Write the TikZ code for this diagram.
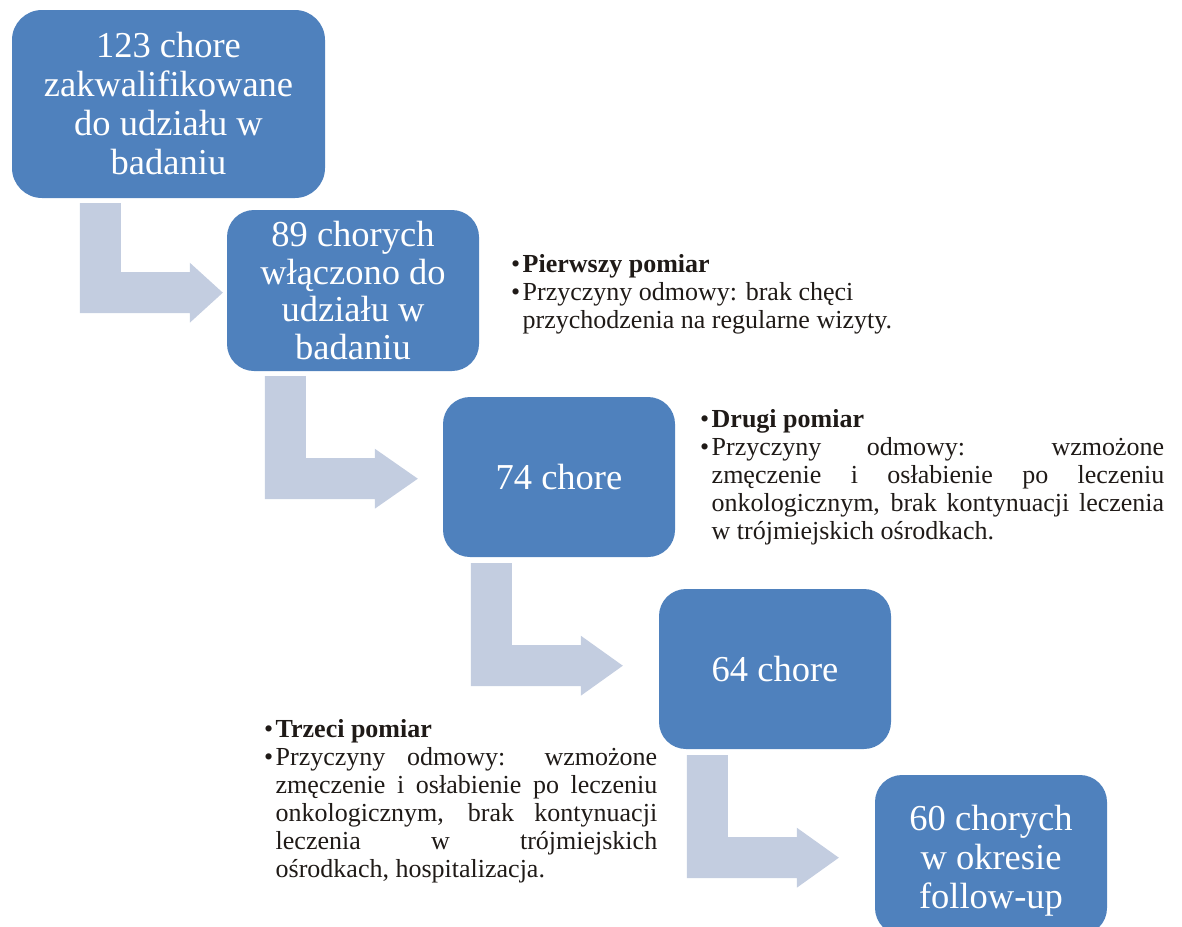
\documentclass[tikz,border=0pt]{standalone}
\usepackage{fontspec}
\setmainfont{Liberation Serif}
\usetikzlibrary{calc}
\definecolor{boxblue}{HTML}{4F81BD}
\definecolor{arrowgray}{RGB}{195,205,224}
\definecolor{notetext}{HTML}{1F1A17}
\newcommand\notebullet{\hspace*{-11.5pt}\makebox[11.5pt][l]{•}}
\newcommand\bentarrow[3]{%
  \fill[arrowgray] #1 -- ++(41,0) -- ++(0,#2-41) -- ++(69,0) -- ++(0,-9.5)
    -- ++(#3,30) -- ++(-#3,30) -- ++(0,-9.5) -- ++(-110,0) -- cycle;}
\begin{document}
\begin{tikzpicture}[x=1pt,y=-1pt,
  stage/.style={rounded corners=#1, fill=boxblue, text=white, align=center,
    inner sep=0pt, font=\fontsize{36.5}{39}\selectfont},
  stage/.default=27pt,
  note/.style={anchor=north west, inner sep=0pt, align=justify, text=notetext,
    font=\fontsize{26}{28}\selectfont}]
\useasboundingbox (0,0) rectangle (1182,926);
\clip (0,0) rectangle (1182,926);
% stages
\node[stage=30pt, minimum width=313pt, minimum height=188pt] (b1) at (168.5,104)
  {123 chore\\zakwalifikowane\\do udziału w\\badaniu};
\node[stage, minimum width=252pt, minimum height=161pt,
  font=\fontsize{36.5}{37.5}\selectfont] (b2) at (353,290.5)
  {89 chorych\\włączono do\\udziału w\\badaniu};
\node[stage, minimum width=232pt, minimum height=160pt] (b3) at (559,477) {74 chore};
\node[stage, minimum width=232pt, minimum height=160pt] (b4) at (775,669) {64 chore};
\node[stage, minimum width=232pt, minimum height=160pt] (b5) at (991,855)
  {\rule{0pt}{37pt}60 chorych\\w okresie\\follow-up};
% bent arrows between stages
\bentarrow{($(b1.south west)+(68,5)$)}{110}{33}
\bentarrow{($(b2.south west)+(38,5)$)}{123}{43}
\bentarrow{($(b3.south west)+(28,6)$)}{123}{42}
\bentarrow{($(b4.south west)+(28,6)$)}{123}{42}
% notes
\node[note, text width=420pt] (n1) at (511,252)
  {\leftskip=11.5pt
   \rule{0pt}{20pt}\notebullet\textbf{Pierwszy pomiar}\par
   \notebullet Przyczyny odmowy: brak chęci\newline
   przychodzenia na regularne wizyty.\par};
\node[note, text width=464pt] (n2) at (700,407)
  {\leftskip=11.5pt
   \rule{0pt}{20pt}\notebullet\textbf{Drugi pomiar}\par
   \notebullet Przyczyny odmowy: wzmożone\linebreak
   zmęczenie i osłabienie po leczeniu\linebreak
   onkologicznym, brak kontynuacji leczenia\linebreak
   w trójmiejskich ośrodkach.\par};
\node[note, text width=393pt] (n3) at (264,717)
  {\leftskip=11.5pt
   \rule{0pt}{20pt}\notebullet\textbf{Trzeci pomiar}\par
   \notebullet Przyczyny odmowy: wzmożone\linebreak
   zmęczenie i osłabienie po leczeniu\linebreak
   onkologicznym, brak kontynuacji\linebreak
   leczenia w trójmiejskich\linebreak
   ośrodkach, hospitalizacja.\par};
\end{tikzpicture}
\end{document}
